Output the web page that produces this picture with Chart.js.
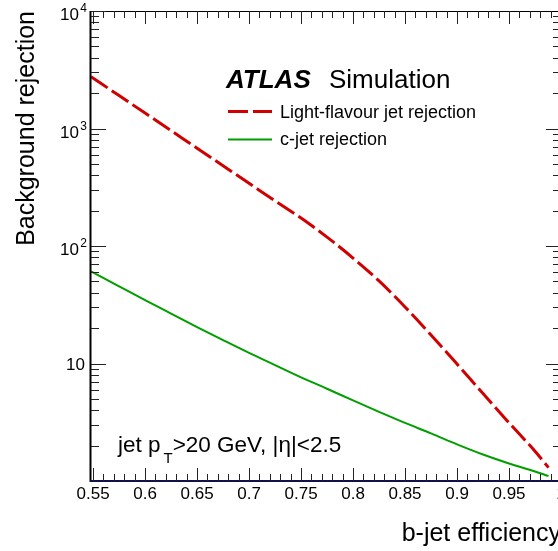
<!DOCTYPE html>
<html>
<head>
<meta charset="utf-8">
<script src="https://cdn.jsdelivr.net/npm/chart.js@4"></script>
<style>
  html, body { margin: 0; padding: 0; overflow: hidden; background: #fff; }
  canvas { display: block; }
</style>
</head>
<body>
<canvas id="rejection-chart" width="566" height="551"></canvas>
<script>
// b-jet efficiency points and the two rejection curves
const effs = [0.548, 0.575, 0.6, 0.625, 0.65, 0.675, 0.7, 0.725, 0.75, 0.775, 0.8, 0.825, 0.85, 0.875, 0.9, 0.925, 0.95, 0.975, 0.988];
const lightRejection = [2760, 1905, 1352, 959, 679, 482, 342, 242, 173, 119, 79, 50.4, 30.3, 17.5, 9.9, 5.55, 3.13, 1.79, 1.3];
const cRejection = [60.7, 45.4, 34.7, 26.6, 20.4, 15.8, 12.3, 9.69, 7.63, 6.1, 4.85, 3.88, 3.12, 2.54, 2.05, 1.68, 1.41, 1.205, 1.1];

const xTicks = [0.55, 0.6, 0.65, 0.7, 0.75, 0.8, 0.85, 0.9, 0.95, 1];
const xTickLabels = ["0.55", "0.6", "0.65", "0.7", "0.75", "0.8", "0.85", "0.9", "0.95", "1"];
const yTicks = [10, 100, 1000, 10000];
const yTickExponents = ["", "2", "3", "4"];

const seriesLabels = ["Light-flavour jet rejection", "c-jet rejection"];

const FONT = "'Liberation Sans', Arial, Helvetica, sans-serif";
const RED = "rgb(208, 0, 0)";
const GREEN = "rgb(0, 158, 0)";

const rejectionChart = document.getElementById("rejection-chart");

const rootFrame = {
  id: "rootFrame",
  afterDraw(chart) {
    const { ctx, chartArea, scales } = chart;
    const { left, right, top, bottom } = chartArea;
    const xs = scales.x;
    const ys = scales.y;
    ctx.save();

    // frame
    ctx.strokeStyle = "#000";
    ctx.lineWidth = 1;
    ctx.beginPath();
    ctx.moveTo(left, top + 0.5);
    ctx.lineTo(right, top + 0.5);
    ctx.moveTo(right - 0.5, top);
    ctx.lineTo(right - 0.5, bottom);
    ctx.stroke();
    ctx.lineWidth = 2;
    ctx.beginPath();
    ctx.moveTo(left - 0.5, top);
    ctx.lineTo(left - 0.5, bottom + 1);
    ctx.stroke();
    ctx.strokeStyle = "#10104a";
    ctx.beginPath();
    ctx.moveTo(left - 1, bottom);
    ctx.lineTo(right, bottom);
    ctx.stroke();

    // x ticks, bottom and top
    ctx.strokeStyle = "#222";
    ctx.lineWidth = 1;
    ctx.beginPath();
    for (let i = 55; i <= 100; i++) {
      const px = Math.round(xs.getPixelForValue(i / 100)) + 0.5;
      const len = i % 5 === 0 ? 13 : 7;
      ctx.moveTo(px, bottom);
      ctx.lineTo(px, bottom - len);
      ctx.moveTo(px, top);
      ctx.lineTo(px, top + len);
    }
    // y ticks, left and right
    for (let d = 0; d < 4; d++) {
      for (let k = 1; k <= 9; k++) {
        const v = k * Math.pow(10, d);
        if (v <= 1) continue;
        const py = Math.round(ys.getPixelForValue(v)) + 0.5;
        const len = k === 1 ? 15 : 8;
        ctx.moveTo(left, py);
        ctx.lineTo(left + len, py);
        ctx.moveTo(right, py);
        ctx.lineTo(right - len, py);
      }
    }
    const topPy = Math.round(ys.getPixelForValue(10000)) + 0.5;
    ctx.moveTo(left, topPy);
    ctx.lineTo(left + 15, topPy);
    ctx.stroke();

    // tick labels
    ctx.fillStyle = "#000";
    ctx.font = "17px " + FONT;
    ctx.textAlign = "center";
    ctx.textBaseline = "alphabetic";
    xTicks.forEach((v, i) => {
      ctx.fillText(xTickLabels[i], xs.getPixelForValue(v), bottom + 18);
    });
    ctx.textAlign = "right";
    yTicks.forEach((v, i) => {
      const py = ys.getPixelForValue(v);
      if (yTickExponents[i] === "") {
        ctx.font = "17px " + FONT;
        ctx.fillText("10", 85, py + 6);
      } else {
        ctx.font = "17px " + FONT;
        ctx.fillText("10", 79, py + 9);
        ctx.font = "12px " + FONT;
        ctx.fillText(yTickExponents[i], 87, py + 1);
      }
    });

    // axis titles
    ctx.font = "25px " + FONT;
    ctx.textAlign = "right";
    ctx.fillText("b-jet efficiency", right, 541);
    ctx.save();
    ctx.translate(34, top);
    ctx.rotate(-Math.PI / 2);
    ctx.fillText("Background rejection", 0, 0);
    ctx.restore();

    // ATLAS label
    ctx.textAlign = "left";
    ctx.font = "italic bold 26px " + FONT;
    ctx.fillText("ATLAS", 226, 88);
    ctx.font = "26px " + FONT;
    ctx.fillText("Simulation", 329, 88);

    // legend
    ctx.lineWidth = 3;
    ctx.strokeStyle = RED;
    ctx.setLineDash([20, 5]);
    ctx.beginPath();
    ctx.moveTo(228, 111.5);
    ctx.lineTo(272, 111.5);
    ctx.stroke();
    ctx.setLineDash([]);
    ctx.lineWidth = 2;
    ctx.strokeStyle = GREEN;
    ctx.beginPath();
    ctx.moveTo(228, 139.5);
    ctx.lineTo(272, 139.5);
    ctx.stroke();
    ctx.font = "18px " + FONT;
    ctx.fillText(seriesLabels[0], 280, 118);
    ctx.fillText(seriesLabels[1], 280, 145);

    // cut label
    ctx.font = "22.5px " + FONT;
    ctx.fillText("jet p", 118, 452);
    let tx = 118 + ctx.measureText("jet p").width + 3;
    ctx.font = "15px " + FONT;
    ctx.fillText("T", tx, 463);
    tx += ctx.measureText("T").width;
    ctx.font = "22.5px " + FONT;
    ctx.fillText(">20 GeV, |\u03b7|<2.5", tx, 452);

    ctx.restore();
  },
};

new Chart(rejectionChart, {
  type: "line",
  options: {
    responsive: false,
    animation: false,
    layout: {
      padding: { left: 91, top: 11, right: 5, bottom: 70 },
    },
    scales: {
      x: { type: "linear", min: 0.548, max: 1.0, display: false },
      y: { type: "logarithmic", min: 1, max: 10000, display: false },
    },
    plugins: {
      legend: { display: false },
      tooltip: { enabled: false },
    },
    elements: {
      point: { radius: 0 },
      line: { cubicInterpolationMode: "monotone" },
    },
  },
  plugins: [rootFrame],

  data: {
    datasets: [
      {
        label: seriesLabels[0],
        data: effs.map((e, i) => ({ x: e, y: lightRejection[i] })),
        borderColor: RED,
        borderWidth: 3,
        borderDash: [20, 5],
      },
      {
        label: seriesLabels[1],
        data: effs.map((e, i) => ({ x: e, y: cRejection[i] })),
        borderColor: GREEN,
        borderWidth: 2,
      },
    ],
  },
});
</script>
</body>
</html>
